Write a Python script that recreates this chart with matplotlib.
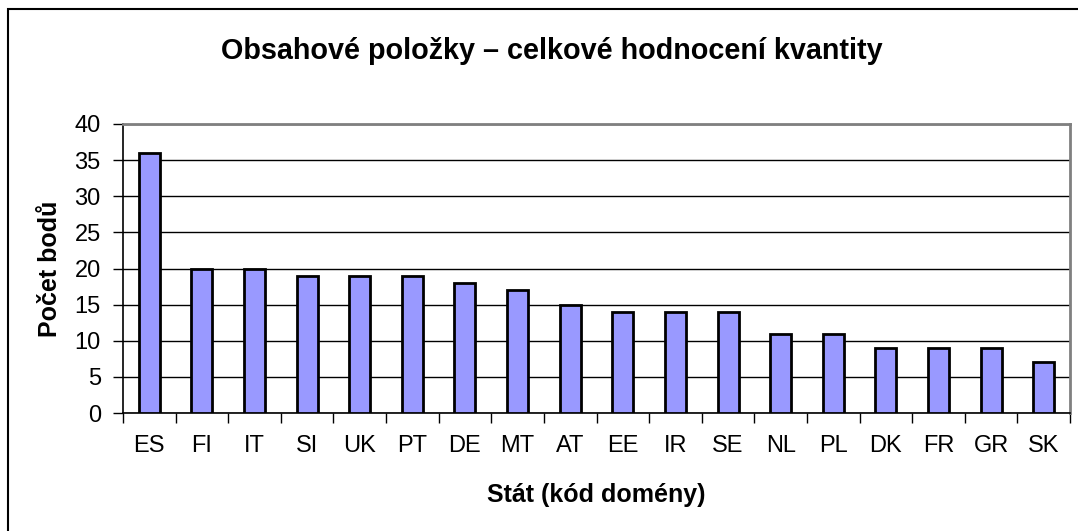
import matplotlib.pyplot as plt
from matplotlib.patches import Rectangle
import numpy as np

plt.rcParams["font.family"] = ["Liberation Sans", "DejaVu Sans"]

# data
countries = ['ES', 'FI', 'IT', 'SI', 'UK', 'PT', 'DE', 'MT', 'AT',
             'EE', 'IR', 'SE', 'NL', 'PL', 'DK', 'FR', 'GR', 'SK']
points = [36, 20, 20, 19, 19, 19, 18, 17, 15, 14, 14, 14, 11, 11, 9, 9, 9, 7]
y_ticks = [0, 5, 10, 15, 20, 25, 30, 35, 40]

W, H = 1078, 531
fig = plt.figure(figsize=(W / 100, H / 100), dpi=100)
ax = fig.add_axes([123 / W, 1 - 413 / H, (1070 - 123) / W, (413 - 124) / H])

x = np.arange(len(countries))
ax.bar(x, points, width=0.4, color='#9999FF', edgecolor='black', linewidth=2, zorder=3)

ax.set_xlim(-0.5, len(countries) - 0.5)
ax.set_ylim(0, 40)
ax.set_yticks(y_ticks)
ax.yaxis.grid(True, color='black', linewidth=1, zorder=0)
ax.set_axisbelow(True)

# category labels centered, ticks between categories
ax.set_xticks(x)
ax.set_xticklabels(countries)
ax.set_xticks(np.arange(-0.5, len(countries)), minor=True)
ax.tick_params(axis='x', which='major', length=0, pad=16, labelsize=17)
ax.tick_params(axis='x', which='minor', length=7, width=1, direction='out', color='black')
ax.tick_params(axis='y', length=7, width=1, direction='out', pad=9, labelsize=17)

for s in ['left', 'bottom']:
    ax.spines[s].set_color('black')
    ax.spines[s].set_linewidth(1.2)
for s in ['top', 'right']:
    ax.spines[s].set_color('#808080')
    ax.spines[s].set_linewidth(2)

fig.text(552 / W, 1 - 51 / H, 'Obsahové položky – celkové hodnocení kvantity',
         ha='center', va='center', fontsize=20.7, fontweight='bold')
fig.text(50 / W, 1 - 269 / H, 'Počet bodů', ha='center', va='center',
         rotation=90, fontsize=18, fontweight='bold')
fig.text(596 / W, 1 - 495 / H, 'Stát (kód domény)', ha='center', va='center',
         fontsize=18, fontweight='bold')

# outer chart frame (right/bottom edges fall outside the image)
fig.patches.append(Rectangle((8 / W, -0.1), 1.2, 1 - 9 / H + 0.1, transform=fig.transFigure,
                             fill=False, edgecolor='black', linewidth=1.5))

fig.savefig('out.png', dpi=100)
